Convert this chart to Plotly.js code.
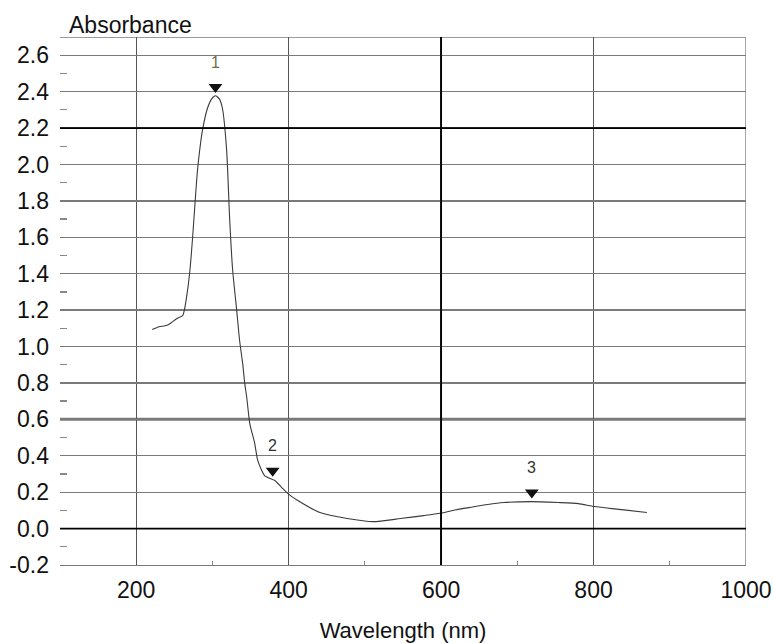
<!DOCTYPE html>
<html>
<head>
<meta charset="utf-8">
<script src="https://cdn.plot.ly/plotly-3.0.1.min.js"></script>
<style>html,body{margin:0;padding:0;background:#fff;}#chart{width:774px;height:643px;}</style>
</head>
<body>
<div id="chart"></div>
<script>
// Spectrum (wavelength nm, absorbance)
const wavelength = [221, 230, 239.5, 246, 253, 261, 263, 266, 270, 274, 277, 280, 283, 287, 293.6, 299, 304, 309, 313, 318.6, 322.6, 326.5, 331.8, 335.7, 339.7, 342.3, 345, 349, 355.5, 359.5, 368.7, 381.9, 391, 399, 412, 441, 476.8, 511, 546.6, 577, 599, 618, 639, 661, 682, 718, 753.6, 780, 801, 837, 870];
const absorbance = [1.093, 1.109, 1.115, 1.131, 1.153, 1.17, 1.197, 1.27, 1.40, 1.60, 1.78, 1.95, 2.07, 2.19, 2.31, 2.36, 2.377, 2.36, 2.31, 2.08, 1.70, 1.42, 1.20, 1.03, 0.906, 0.80, 0.72, 0.577, 0.467, 0.373, 0.29, 0.264, 0.225, 0.192, 0.154, 0.088, 0.055, 0.038, 0.055, 0.071, 0.084, 0.102, 0.117, 0.132, 0.143, 0.148, 0.143, 0.137, 0.121, 0.104, 0.088];

// Peak markers
const peakLabels = ["1", "2", "3"];
const peakX = [304, 379, 719];
const peakY = [2.425, 0.318, 0.198];
const peakLabelColors = ["#6e6e48", "#333333", "#333333"];

// Ticks
const yTickVals = [-0.2, 0.0, 0.2, 0.4, 0.6, 0.8, 1.0, 1.2, 1.4, 1.6, 1.8, 2.0, 2.2, 2.4, 2.6];
const yTickText = ["-0.2", "0.0", "0.2", "0.4", "0.6", "0.8", "1.0", "1.2", "1.4", "1.6", "1.8", "2.0", "2.2", "2.4", "2.6"];
const xTickVals = [200, 400, 600, 800, 1000];
const xTickText = ["200", "400", "600", "800", "1000"];

const FONT = "Liberation Sans, Arial, sans-serif";
const gridGray = "#7a7a7a";

const traces = [
  {
    x: wavelength, y: absorbance, type: "scatter", mode: "lines",
    line: {color: "#3a3a3a", width: 1.1, shape: "spline", smoothing: 0.6},
    hoverinfo: "skip", showlegend: false
  },
  {
    x: peakX, y: peakY, type: "scatter", mode: "markers",
    marker: {symbol: "triangle-down", size: 12, color: "#111"},
    hoverinfo: "skip", showlegend: false
  }
];

const annotations = peakLabels.map((t, i) => ({
  x: peakX[i], y: peakY[i], xref: "x", yref: "y", text: t, showarrow: false,
  yshift: 25, font: {family: FONT, size: 16, color: peakLabelColors[i]}
}));
annotations.push({
  xref: "paper", yref: "paper", x: 0.0105, y: 1.0227, xanchor: "left", yanchor: "middle",
  text: "Absorbance", showarrow: false, font: {family: FONT, size: 23, color: "#111"}
});

function hline(y, color, width, layer) {
  return {type: "line", xref: "paper", yref: "y", x0: 0, x1: 1, y0: y, y1: y, line: {color: color, width: width}, layer: layer};
}
function vline(x, color, width, layer) {
  return {type: "line", xref: "x", yref: "paper", x0: x, x1: x, y0: 0, y1: 1, line: {color: color, width: width}, layer: layer};
}

const shapes = [
  hline(2.7, gridGray, 1.3, "below"),
  hline(0.6, "#7a7a7a", 3, "below"),
  vline(1000, gridGray, 1.3, "below"),
  hline(2.2, "#000", 1.8, "above"),
  hline(0.0, "#000", 1.8, "above"),
  vline(600, "#000", 1.8, "above")
];

const layout = {
  width: 774, height: 643,
  margin: {l: 60, r: 28, t: 37, b: 78},
  paper_bgcolor: "#fff", plot_bgcolor: "#fff",
  font: {family: FONT, color: "#111"},
  xaxis: {
    range: [100, 1000], tickvals: xTickVals, ticktext: xTickText,
    showgrid: true, gridcolor: "#555", gridwidth: 1.3,
    zeroline: false, showline: true, linecolor: gridGray, linewidth: 1.3,
    ticks: "", ticklabelstandoff: 4, tickfont: {family: FONT, size: 23, color: "#111"},
    minor: {tickvals: [300, 500, 700, 900], ticks: "inside", ticklen: 4, tickcolor: "#888", tickwidth: 1, showgrid: false},
    title: {text: "Wavelength (nm)", font: {family: FONT, size: 22, color: "#111"}, standoff: 24},
    automargin: false, fixedrange: true
  },
  yaxis: {
    range: [-0.2, 2.7], tickvals: yTickVals, ticktext: yTickText,
    showgrid: true, gridcolor: gridGray, gridwidth: 1.3,
    zeroline: false, showline: false,
    ticks: "", ticklabelstandoff: 10, tickfont: {family: FONT, size: 23, color: "#111"},
    minor: {tickvals: [-0.1, 0.1, 0.3, 0.5, 0.7, 0.9, 1.1, 1.3, 1.5, 1.7, 1.9, 2.1, 2.3, 2.5], ticks: "inside", ticklen: 7, tickcolor: "#888", tickwidth: 1.3, showgrid: false},
    automargin: false, fixedrange: true
  },
  shapes: shapes,
  annotations: annotations,
  showlegend: false
};

Plotly.newPlot("chart", traces, layout, {displayModeBar: false, staticPlot: true});
</script>
</body>
</html>
